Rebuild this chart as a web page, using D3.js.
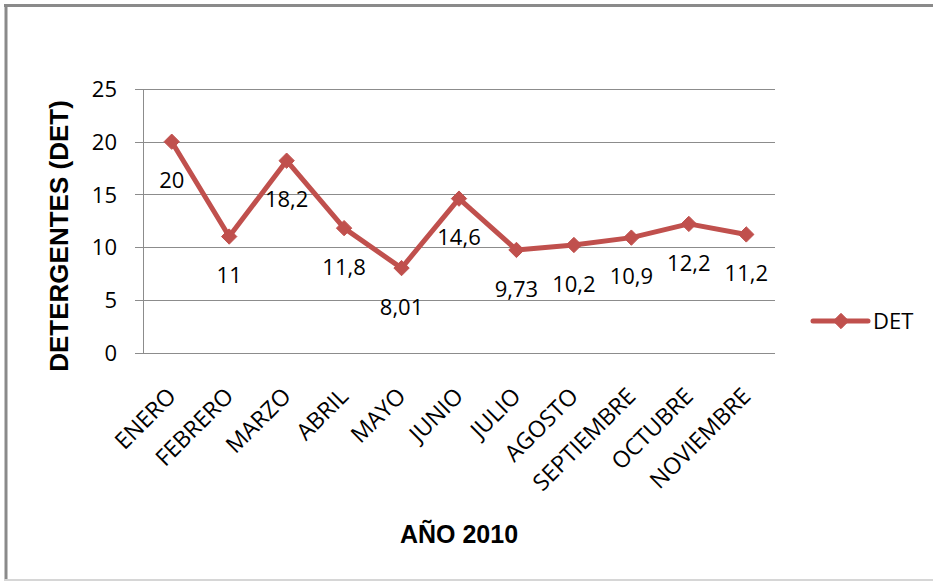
<!DOCTYPE html>
<html>
<head>
<meta charset="utf-8">
<script src="https://cdn.jsdelivr.net/npm/d3@7"></script>
<style>
  html, body { margin: 0; padding: 0; background: #fff; }
  svg { display: block; }
</style>
</head>
<body>
<svg id="chart" width="933" height="581"></svg>
<script>
// Detergentes (DET) por mes, año 2010
const months = ["ENERO", "FEBRERO", "MARZO", "ABRIL", "MAYO", "JUNIO", "JULIO",
                "AGOSTO", "SEPTIEMBRE", "OCTUBRE", "NOVIEMBRE"];
const detValues = [20, 11, 18.2, 11.8, 8.01, 14.6, 9.73, 10.2, 10.9, 12.2, 11.2];
const detLabels = ["20", "11", "18,2", "11,8", "8,01", "14,6", "9,73", "10,2", "10,9", "12,2", "11,2"];
const yTicks = [0, 5, 10, 15, 20, 25];
const seriesName = "DET";
const xTitle = "AÑO 2010";
const yTitle = "DETERGENTES (DET)";

const svg = d3.select("#chart");
const W = 933, H = 581;
const plot = { left: 143, right: 775, top: 89, bottom: 352.5 };
const red = "#C0504D";
const grid = "#8c8c8c";
const bodyFont = "'Open Sans', 'Noto Sans', sans-serif";
const boldFont = "'Liberation Sans', Arial, sans-serif";

// chart frame
svg.append("line").attr("x1", 4).attr("x2", W).attr("y1", 5.5).attr("y2", 5.5)
  .attr("stroke", "#8a8a8a").attr("stroke-width", 3);
svg.append("line").attr("x1", 6).attr("x2", 6).attr("y1", 4).attr("y2", 580)
  .attr("stroke", "#8a8a8a").attr("stroke-width", 3);
svg.append("line").attr("x1", 4).attr("x2", W).attr("y1", 580).attr("y2", 580)
  .attr("stroke", "#d6d6d6").attr("stroke-width", 2);

const x = d3.scalePoint().domain(months).range([plot.left, plot.right]).padding(0.5);
const y = d3.scaleLinear().domain([0, 25]).range([plot.bottom, plot.top]);

// horizontal gridlines
svg.append("g").selectAll("line").data(yTicks).join("line")
  .attr("x1", plot.left - 8).attr("x2", plot.right)
  .attr("y1", d => Math.round(y(d)) + 0.5).attr("y2", d => Math.round(y(d)) + 0.5)
  .attr("stroke", grid).attr("stroke-width", 1);

// value axis line
svg.append("line")
  .attr("x1", plot.left + 0.5).attr("x2", plot.left + 0.5)
  .attr("y1", plot.top).attr("y2", Math.round(plot.bottom) + 0.5)
  .attr("stroke", grid).attr("stroke-width", 1);

// value axis labels
const yAxis = d3.axisLeft(y).tickValues(yTicks).tickSize(0).tickPadding(26);
const gy = svg.append("g").attr("transform", `translate(${plot.left},0)`).call(yAxis);
gy.select(".domain").remove();
gy.selectAll("text").attr("font-family", bodyFont).attr("font-size", 22)
  .attr("fill", "#000").attr("dy", "0.35em");

// category labels, rotated
svg.append("g").selectAll("text").data(months).join("text")
  .attr("transform", d => `translate(${x(d)},392) rotate(-45)`)
  .attr("text-anchor", "end").attr("dy", "0.35em")
  .attr("font-family", bodyFont).attr("font-size", 23).attr("fill", "#000")
  .text(d => d);

// series line
const pts = months.map((m, i) => ({ m, v: detValues[i], label: detLabels[i] }));
svg.append("path").datum(pts)
  .attr("d", d3.line().x(d => x(d.m)).y(d => y(d.v)))
  .attr("fill", "none").attr("stroke", red).attr("stroke-width", 5)
  .attr("stroke-linejoin", "round");

// diamond markers
const diamond = d3.symbol().type(d3.symbolDiamond2).size(150);
svg.append("g").selectAll("path").data(pts).join("path")
  .attr("transform", d => `translate(${x(d.m)},${y(d.v)})`)
  .attr("d", diamond).attr("fill", red).attr("stroke", red).attr("stroke-width", 1);

// data labels below each point
svg.append("g").selectAll("text").data(pts).join("text")
  .attr("x", d => x(d.m)).attr("y", d => y(d.v) + 39)
  .attr("text-anchor", "middle").attr("dy", "0.35em")
  .attr("font-family", bodyFont).attr("font-size", 22).attr("fill", "#000")
  .text(d => d.label);

// axis titles
svg.append("text").attr("x", 459).attr("y", 543).attr("text-anchor", "middle")
  .attr("font-family", boldFont).attr("font-weight", "bold").attr("font-size", 25)
  .attr("fill", "#000").text(xTitle);
svg.append("text").attr("transform", "translate(68,236) rotate(-90)")
  .attr("text-anchor", "middle")
  .attr("font-family", boldFont).attr("font-weight", "bold").attr("font-size", 26)
  .attr("fill", "#000").text(yTitle);

// legend
const lg = svg.append("g").attr("transform", "translate(813,321)");
lg.append("line").attr("x1", 0).attr("x2", 55).attr("y1", 0).attr("y2", 0)
  .attr("stroke", red).attr("stroke-width", 5).attr("stroke-linecap", "round");
lg.append("path").attr("transform", "translate(28,0)").attr("d", diamond)
  .attr("fill", red).attr("stroke", red);
lg.append("text").attr("x", 60).attr("y", 0).attr("dy", "0.35em")
  .attr("font-family", bodyFont).attr("font-size", 22).attr("fill", "#000")
  .text(seriesName);
</script>
</body>
</html>
